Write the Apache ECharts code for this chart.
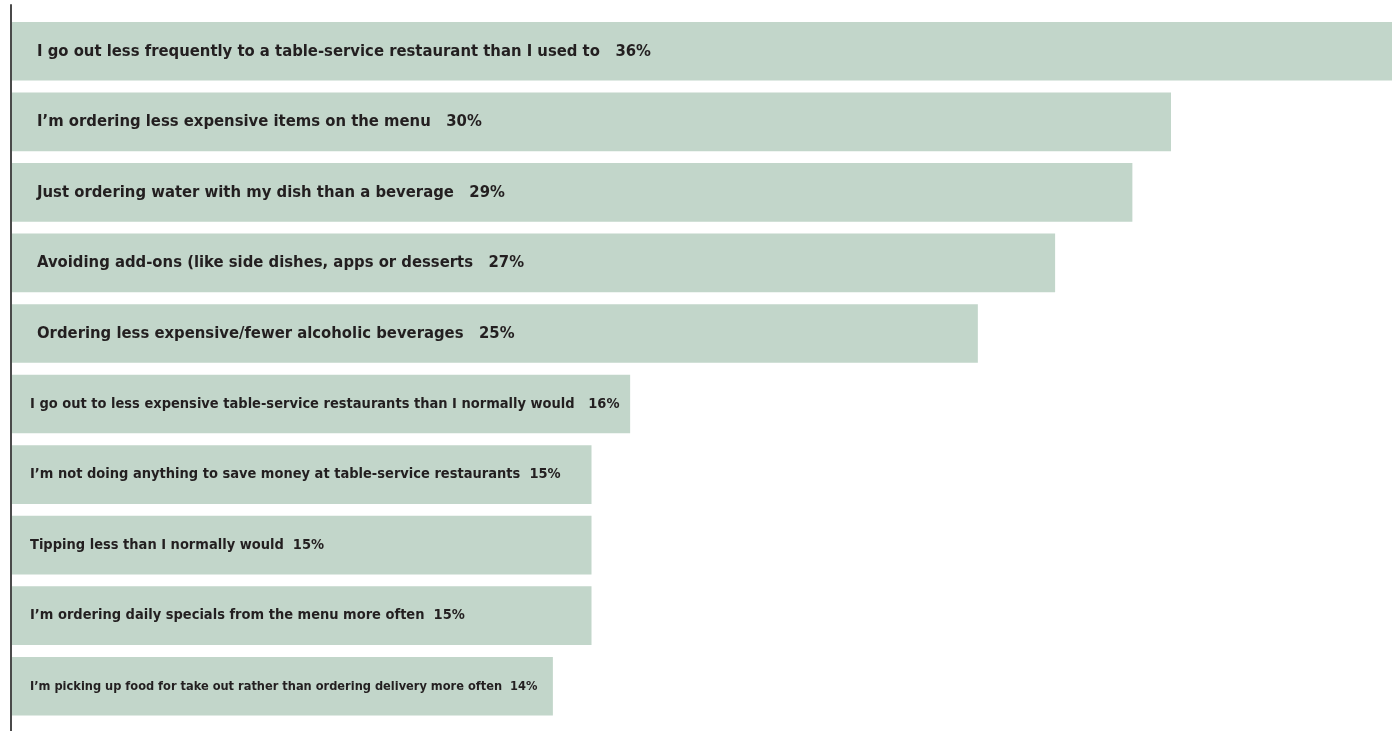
<!DOCTYPE html>
<html>
<head>
<meta charset="utf-8">
<script src="https://cdn.jsdelivr.net/npm/echarts@6/dist/echarts.min.js"></script>
<style>
  html, body { margin: 0; padding: 0; background: #ffffff; }
  #chart { width: 1392px; height: 731px; }
</style>
</head>
<body>
<div id="chart"></div>
<script>
// Ways diners are saving money at table-service restaurants (share of respondents, %)
const categories = [
  "I go out less frequently to a table-service restaurant than I used to",
  "I\u2019m ordering less expensive items on the menu",
  "Just ordering water with my dish than a beverage",
  "Avoiding add-ons (like side dishes, apps or desserts",
  "Ordering less expensive/fewer alcoholic beverages",
  "I go out to less expensive table-service restaurants than I normally would",
  "I\u2019m not doing anything to save money at table-service restaurants",
  "Tipping less than I normally would",
  "I\u2019m ordering daily specials from the menu more often",
  "I\u2019m picking up food for take out rather than ordering delivery more often"
];
const values = [36, 30, 29, 27, 25, 16, 15, 15, 15, 14];

// label type size per row (larger for the leading answers)
const labelSizes = [16.5, 16.5, 16.5, 16.5, 16.5, 14.5, 14.5, 14.5, 14.5, 12.7];
const labelGaps = ["   ", "   ", "   ", "   ", "   ", "   ", "  ", "  ", "  ", "  "];
const labelPad = [25, 25, 25, 25, 25, 18, 18, 18, 18, 18];

const chart = echarts.init(document.getElementById('chart'), null, { renderer: 'canvas' });

const seriesData = values.map((v, i) => ({
  value: v,
  label: {
    fontSize: labelSizes[i],
    distance: labelPad[i],
    formatter: categories[i] + labelGaps[i] + v + '%'
  }
}));

chart.setOption({
  animation: false,
  backgroundColor: '#ffffff',
  grid: [
    { left: 12, right: 0, top: 16, bottom: 9.5 },
    { left: 11, width: 1, top: 5, bottom: 0 }
  ],
  xAxis: [
    // the longest bar runs past the right edge of the page
    { gridIndex: 0, type: 'value', min: 0, max: 35.72, show: false },
    { gridIndex: 1, type: 'value', min: 0, max: 1, show: false }
  ],
  yAxis: [
    {
      gridIndex: 0,
      type: 'category',
      data: categories,
      inverse: true,
      axisLine: { show: false },
      axisTick: { show: false },
      axisLabel: { show: false },
      splitLine: { show: false }
    },
    {
      gridIndex: 1,
      type: 'value',
      min: 0,
      max: 1,
      axisLine: { show: true, onZero: false, lineStyle: { color: '#4a4a4a', width: 2 } },
      axisTick: { show: false },
      axisLabel: { show: false },
      splitLine: { show: false }
    }
  ],
  series: [
    {
      type: 'bar',
      xAxisIndex: 0,
      yAxisIndex: 0,
      data: seriesData,
      clip: true,
      barCategoryGap: '16.8%',
      itemStyle: { color: '#c2d6ca' },
      label: {
        show: true,
        position: 'insideLeft',
        color: '#231f20',
        fontFamily: '"DejaVu Sans Condensed", "Liberation Sans Narrow", sans-serif',
        fontWeight: 'bold'
      },
      emphasis: { disabled: true }
    }
  ]
});
</script>
</body>
</html>
